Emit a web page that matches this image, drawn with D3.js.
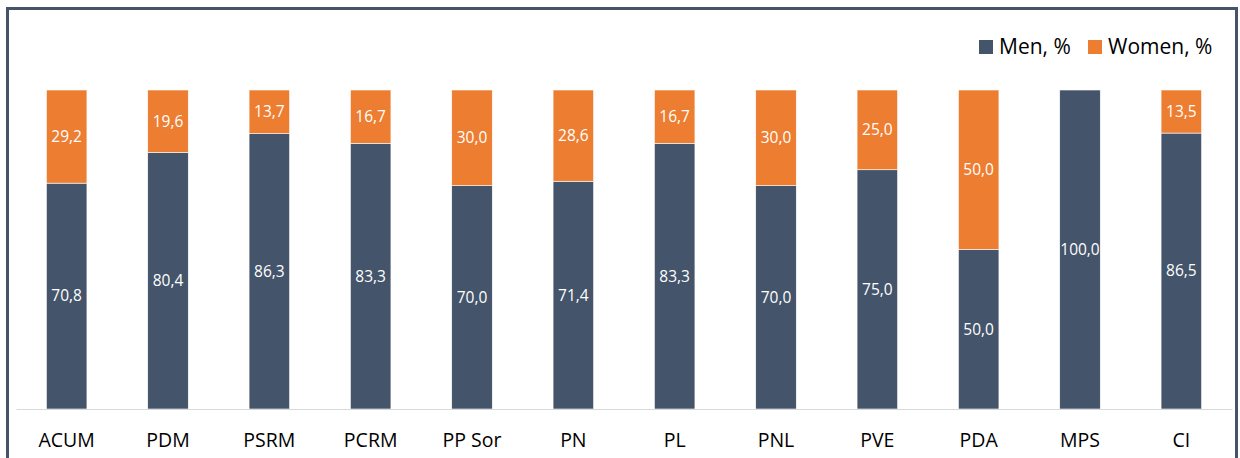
<!DOCTYPE html>
<html>
<head>
<meta charset="utf-8">
<script src="https://d3js.org/d3.v7.min.js"></script>
<style>
body { margin: 0; background: #fff; }
svg { display: block; font-family: 'Open Sans', 'Noto Sans', sans-serif; }
</style>
</head>
<body>
<svg id="chart" width="1240" height="458"></svg>
<script>
var categories = ['ACUM', 'PDM', 'PSRM', 'PCRM', 'PP Sor', 'PN', 'PL', 'PNL', 'PVE', 'PDA', 'MPS', 'CI'];
var men = [70.8, 80.4, 86.3, 83.3, 70.0, 71.4, 83.3, 70.0, 75.0, 50.0, 100.0, 86.5];
var women = [29.2, 19.6, 13.7, 16.7, 30.0, 28.6, 16.7, 30.0, 25.0, 50.0, 0, 13.5];
var seriesNames = ['Men, %', 'Women, %'];
var colors = ['#44546a', '#ed7d31'];

var svg = d3.select('#chart');

// frame
svg.append('rect')
  .attr('x', 7.5).attr('y', 8.5)
  .attr('width', 1229).attr('height', 470)
  .attr('fill', 'none')
  .attr('stroke', '#44546a')
  .attr('stroke-width', 3);

var x = d3.scaleBand().domain(categories).range([16, 1232]).paddingInner(0.6).paddingOuter(0.3);
var y = d3.scaleLinear().domain([0, 100]).range([409, 90]);

var rows = categories.map(function (c, i) { return { cat: c, men: men[i], women: women[i] }; });
var stack = d3.stack().keys(['men', 'women'])(rows);

var fmt = function (v) { return v.toFixed(1).replace('.', ','); };

var layers = svg.selectAll('g.layer').data(stack).enter().append('g')
  .attr('class', 'layer')
  .attr('fill', function (d, i) { return colors[i]; });

layers.selectAll('rect').data(function (d) { return d; }).enter().append('rect')
  .attr('x', function (d) { return x(d.data.cat); })
  .attr('y', function (d) { return y(d[1]); })
  .attr('width', x.bandwidth())
  .attr('height', function (d) { return y(d[0]) - y(d[1]); })
  .attr('stroke', '#fff')
  .attr('stroke-width', 0.6);

layers.selectAll('text').data(function (d) { return d.filter(function (p) { return p[1] - p[0] > 0; }); })
  .enter().append('text')
  .attr('x', function (d) { return x(d.data.cat) + x.bandwidth() / 2; })
  .attr('y', function (d) { return (y(d[0]) + y(d[1])) / 2; })
  .attr('dy', '0.35em')
  .attr('text-anchor', 'middle')
  .attr('fill', '#fff')
  .attr('font-size', 15.5)
  .text(function (d) { return fmt(d[1] - d[0]); });

// x axis
var axis = svg.append('g').attr('transform', 'translate(0,409)')
  .call(d3.axisBottom(x).tickSize(0).tickPadding(24));
axis.select('.domain').attr('stroke', '#d9d9d9').attr('stroke-width', 1.2);
axis.selectAll('text').attr('font-size', 19.5).attr('fill', '#000')
  .attr('font-family', "'Open Sans', 'Noto Sans', sans-serif");

// legend
var legend = svg.append('g');
var lx = [979, 1088];
seriesNames.forEach(function (n, i) {
  legend.append('rect').attr('x', lx[i]).attr('y', 40).attr('width', 14).attr('height', 14).attr('fill', colors[i]);
  legend.append('text').attr('x', lx[i] + 20).attr('y', 47).attr('dy', '0.35em')
    .attr('font-size', 21).attr('fill', '#000').text(n);
});
</script>
</body>
</html>
